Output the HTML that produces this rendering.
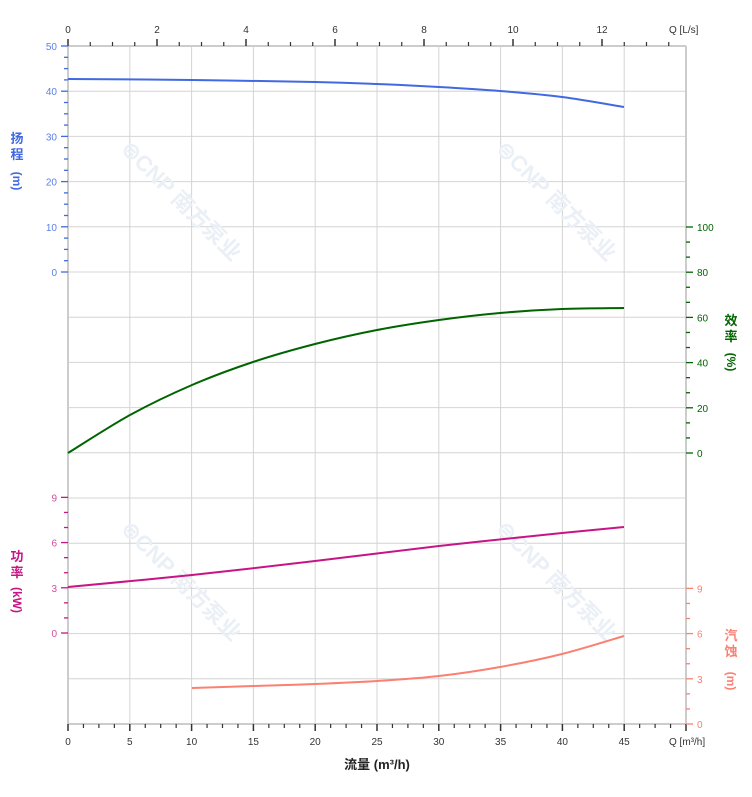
<!DOCTYPE html>
<html><head><meta charset="utf-8"><style>
body{margin:0;background:#fff;}
svg{display:block;font-family:"Liberation Sans","Noto Sans CJK SC",sans-serif;}
</style></head><body>
<svg id="s" width="752" height="797" viewBox="0 0 752 797" xmlns="http://www.w3.org/2000/svg"></svg>
<script>
const s=document.getElementById('s');let h='';
const L=68,R=686,T=46,B=724;
const X=v=>L+v*(R-L)/50;
for(let i=0;i<=10;i++){const x=X(i*5);h+=`<line x1="${x}" y1="${T}" x2="${x}" y2="${B}" stroke="#d4d4d4" stroke-width="1"/>`;}
for(let i=0;i<=15;i++){const y=T+i*(B-T)/15;h+=`<line x1="${L}" y1="${y}" x2="${R}" y2="${y}" stroke="#d4d4d4" stroke-width="1"/>`;}
[[120,150],[495,150],[120,530],[495,530]].forEach(([x,y])=>{h+=`<text x="${x}" y="${y}" transform="rotate(45 ${x} ${y})" font-size="22" font-weight="bold" fill="#eaf0f6">⊜CNP 南方泵业</text>`;});
h+=`<line x1="${L}" y1="${T}" x2="${R}" y2="${T}" stroke="#ccc" stroke-width="2"/>`;
h+=`<line x1="${L}" y1="${B}" x2="${R}" y2="${B}" stroke="#ccc" stroke-width="2"/>`;
h+=`<line x1="${L}" y1="${T}" x2="${L}" y2="${B}" stroke="#ccc" stroke-width="2"/>`;
h+=`<line x1="${R}" y1="${T}" x2="${R}" y2="${B}" stroke="#ccc" stroke-width="2"/>`;
// bottom ticks every 1.25
for(let k=0;k<=40;k++){const v=k*1.25,x=X(v),big=k%4==0;h+=`<line x1="${x}" y1="${B}" x2="${x}" y2="${B+(big?7:4)}" stroke="#333" stroke-width="${big?1.5:1.2}"/>`;if(big&&v<=45)h+=`<text x="${x}" y="${B+21}" font-size="10" text-anchor="middle" fill="#333">${v}</text>`;}
h+=`<text x="669" y="${B+21}" font-size="10" fill="#333">Q [m³/h]</text>`;
h+=`<text x="377" y="769" font-size="13" font-weight="bold" text-anchor="middle" fill="#222">流量 (m³/h)</text>`;
const XQ=q=>L+q*89/2;
for(let k=0;k<=27;k++){const q=k*0.5,x=XQ(q);if(x>R)break;const big=k%4==0;h+=`<line x1="${x}" y1="${T}" x2="${x}" y2="${T-(big?7:4)}" stroke="#333" stroke-width="${big?1.5:1.2}"/>`;if(big)h+=`<text x="${x}" y="${T-13}" font-size="10" text-anchor="middle" fill="#333">${q}</text>`;}
h+=`<text x="669" y="${T-13}" font-size="10" fill="#333">Q [L/s]</text>`;
function vt(x,y,c,chars,paren,yp){h+=`<text x="${x}" y="${y}" font-size="13" font-weight="bold" fill="${c}" text-anchor="middle">${chars[0]}</text><text x="${x}" y="${y+16}" font-size="13" font-weight="bold" fill="${c}" text-anchor="middle">${chars[1]}</text><text x="${x}" y="${yp+4}" font-size="12" font-weight="bold" fill="${c}" text-anchor="middle" transform="rotate(90 ${x} ${yp})">(${paren})</text>`;}
const YH=v=>272-v*4.52;
for(let v=0;v<=50;v+=2.5){const y=YH(v),big=v%10==0;h+=`<line x1="${L}" y1="${y}" x2="${L-(big?7:4)}" y2="${y}" stroke="#4169e1" stroke-width="1.3"/>`;if(big)h+=`<text x="${L-11}" y="${y+4}" font-size="10" text-anchor="end" fill="#5b7fe6">${v}</text>`;}
vt(17,143,'#4169e1','扬程','m',181);
const YE=v=>453-v*2.26;
for(let k=0;k<=15;k++){const v=k*20/3,y=YE(v),big=k%3==0;h+=`<line x1="${R}" y1="${y}" x2="${R+(big?7:4)}" y2="${y}" stroke="#006400" stroke-width="1.3"/>`;if(big)h+=`<text x="${R+11}" y="${y+4}" font-size="10" fill="#006400">${Math.round(v)}</text>`;}
vt(731,325,'#006400','效率','%',362);
const YP=v=>633-v*15.07;
for(let v=0;v<=9;v+=1){const y=YP(v),big=v%3==0;h+=`<line x1="${L}" y1="${y}" x2="${L-(big?7:4)}" y2="${y}" stroke="#c71585" stroke-width="1.3"/>`;if(big)h+=`<text x="${L-11}" y="${y+4}" font-size="10" text-anchor="end" fill="#d0509a">${v}</text>`;}
vt(17,561,'#c71585','功率','kW',600);
const YN=v=>724-v*15.07;
for(let v=0;v<=9;v+=1){const y=YN(v),big=v%3==0;h+=`<line x1="${R}" y1="${y}" x2="${R+(big?7:4)}" y2="${y}" stroke="#fa8072" stroke-width="1.3"/>`;if(big)h+=`<text x="${R+11}" y="${y+4}" font-size="10" fill="#fa8072">${v}</text>`;}
vt(731,640,'#fa8072','汽蚀','m',681);
function smooth(pts,c){let d='M'+pts[0][0]+' '+pts[0][1];for(let i=0;i<pts.length-1;i++){const p0=pts[Math.max(i-1,0)],p1=pts[i],p2=pts[i+1],p3=pts[Math.min(i+2,pts.length-1)];d+=` C${p1[0]+(p2[0]-p0[0])/6} ${p1[1]+(p2[1]-p0[1])/6} ${p2[0]-(p3[0]-p1[0])/6} ${p2[1]-(p3[1]-p1[1])/6} ${p2[0]} ${p2[1]}`;}h+=`<path d="${d}" fill="none" stroke="${c}" stroke-width="2"/>`;}
smooth([[68,79],[192,80],[315,82],[377,84],[439,87],[500,91],[562,97],[624,107]],'#4169e1');
smooth([[68,453],[130,415],[192,385],[253,362],[315,344],[377,330],[439,320],[500,313],[562,309],[624,308]],'#006400');
smooth([[68,587],[192,575],[315,561],[439,546],[562,533],[624,527]],'#c71585');
smooth([[192,688],[253,686],[315,684],[377,681],[439,676],[500,667],[562,654],[624,636]],'#fa8072');
s.innerHTML=h;
</script>
</body></html>
